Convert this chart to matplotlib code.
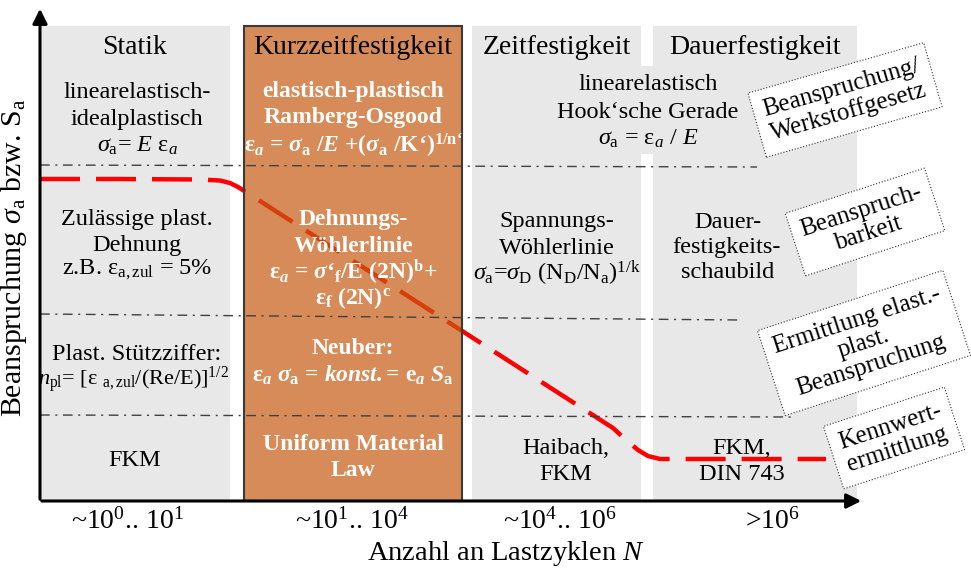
import matplotlib
matplotlib.use("Agg")
import matplotlib.pyplot as plt
from matplotlib.patches import Rectangle

plt.rcParams['font.family'] = ['Liberation Serif', 'DejaVu Serif']
plt.rcParams['mathtext.fontset'] = 'custom'
plt.rcParams['mathtext.rm'] = 'Liberation Serif'
plt.rcParams['mathtext.it'] = 'Liberation Serif:italic'
plt.rcParams['mathtext.bf'] = 'Liberation Serif:bold'
plt.rcParams['mathtext.bfit'] = 'Liberation Serif:bold:italic'

# regimes along the N axis (pixel layout of the sketch)
regimes = ['Statik', 'Kurzzeitfestigkeit', 'Zeitfestigkeit', 'Dauerfestigkeit']
regime_left = [40, 244, 472, 653]
regime_right = [230, 462, 641, 857]
cycle_ranges = [r'~10$^0$.. 10$^1$', r'~10$^1$.. 10$^4$', r'~10$^4$.. 10$^6$', r'>10$^6$']
cycle_x = [127, 352, 560, 772]

# dash-dot row separators
sep_y0 = [165, 314, 415]
sep_y1 = [167, 320, 417]
sep_end = [757, 742, 795]

# red curve (sigma_a over N)
curve_x = [40, 120, 200, 220, 230, 238, 246, 613, 626, 638, 648, 660, 700, 826]
curve_y = [179, 179, 179.5, 180.5, 183, 187, 192, 428, 440, 450, 456, 459, 459, 459]

# cell texts: gray columns (black) and orange column (white bold)
black_text = [
    'linearelastisch-', 'idealplastisch', r'$\sigma_{\rm a}$= $E$ ε$_{a}$',
    'Zulässige plast.', 'Dehnung', r'z.B. ε$_{\rm a,zul}$ = 5%',
    'Plast. Stützziffer:', r'$n_{\rm pl}$= [ε $_{\rm a,zul}$/(Re/E)]$^{1/2}$', 'FKM',
    'linearelastisch', 'Hook‘sche Gerade', r'$\sigma_{\rm a}$ = ε$_{a}$ / $E$',
    'Spannungs-', 'Wöhlerlinie', r'$\sigma_{\rm a}$=$\sigma_{\rm D}$ (N$_{\rm D}$/N$_{\rm a}$)$^{1/{\rm k}}$',
    'Haibach,', 'FKM',
    'Dauer-', 'festigkeits-', 'schaubild', 'FKM,', 'DIN 743',
]
black_x = [137, 137, 137, 137, 137, 137, 137, 133, 135,
           648, 648, 648, 557, 557, 557, 566, 566,
           728, 726, 728, 742, 742]
black_y = [92, 119, 146, 219, 245, 270, 354, 380, 460,
           84, 112, 139, 222, 248, 273, 448, 475,
           222, 247, 272, 448, 475]
black_size = [17.5] * 7 + [16] + [17.5] * 14

white_text = [
    'elastisch-plastisch', 'Ramberg-Osgood',
    r'ε$_{\mathbfit{a}}$ = $\mathbfit{σ}_{\mathbf{a}}$ /$\mathbfit{E}$ +($\mathbfit{σ}_{\mathbf{a}}$ /K‘)$^{\mathbf{1/n‘}}$',
    'Dehnungs-', 'Wöhlerlinie',
    r'ε$_{\mathbfit{a}}$ = $\mathbfit{σ}$‘$_{\mathbf{f}}$/E (2N)$^{\mathbf{b}}$+',
    r'ε$_{\mathbf{f}}$ (2N)$^{\mathbf{c}}$',
    'Neuber:', r'ε$_{\mathbfit{a}}$ $\mathbfit{σ}_{\mathbf{a}}$ = $\mathbfit{konst.}$= e$_{\mathbfit{a}}$ $\mathbfit{S}_{\mathbf{a}}$',
    'Uniform Material', 'Law',
]
white_y = [92, 118, 145, 219, 246, 272, 298, 348, 375, 444, 470]

# rotated labels on the right
side_labels = ['Beanspruchung/\nWerkstoffgesetz', 'Beanspruch-\nbarkeit',
               'Ermittlung elast.-\nplast.\nBeanspruchung', 'Kennwert-\nermittlung']
side_x = [845, 865, 864, 894]
side_y = [100, 222, 343, 438]
side_rot = [16, 18, 18, 18]

fig = plt.figure(figsize=(9.71, 5.71), dpi=100)
ax = fig.add_axes([0, 0, 1, 1])
ax.set_xlim(0, 971)
ax.set_ylim(571, 0)
ax.axis('off')

gray = '#e8e8e8'
for i, (l, r) in enumerate(zip(regime_left, regime_right)):
    if i == 1:
        ax.add_patch(Rectangle((l, 26), r - l, 475, fc=(197/255, 90/255, 17/255, 0.7),
                               ec='#3a3a3a', lw=1.5, zorder=3))
    else:
        ax.add_patch(Rectangle((l, 26), r - l, 475, fc=gray, ec='none', zorder=1))
# gray bridge for shared Hook text
ax.add_patch(Rectangle((regime_right[2], 66), regime_left[3] - regime_right[2], 88,
                       fc=gray, ec='none', zorder=1))

ax.plot(curve_x, curve_y, color='#ff0000', lw=3.2, dashes=(9, 3.6),
        solid_capstyle='butt', zorder=2)

for y0, y1, xe in zip(sep_y0, sep_y1, sep_end):
    ax.plot([40, xe], [y0, y1], color='#404040', lw=1.0,
            linestyle=(0, (7, 4, 1.5, 4)), zorder=4)

for name, l, r in zip(regimes, regime_left, regime_right):
    ax.text((l + r) / 2, 48, name, ha='center', va='center', fontsize=20, zorder=5)

for s, x, y, fs in zip(black_text, black_x, black_y, black_size):
    ax.text(x, y, s, ha='center', va='center', fontsize=fs, zorder=5)

for s, y in zip(white_text, white_y):
    ax.text(353, y, s, ha='center', va='center', fontsize=17, color='white',
            fontweight='bold', zorder=5)

for s, x, y, rot in zip(side_labels, side_x, side_y, side_rot):
    ax.text(x, y, s, ha='center', va='center', fontsize=18, rotation=rot,
            rotation_mode='anchor', multialignment='center', linespacing=1.1, zorder=5,
            bbox=dict(boxstyle='square,pad=0.4', fc='white', ec='#333333', lw=0.8, ls=':'))

for s, x in zip(cycle_ranges, cycle_x):
    ax.text(x, 521, s, ha='center', va='center', fontsize=20)

ax.text(506, 553, r'Anzahl an Lastzyklen $N$', ha='center', va='center', fontsize=20.5)
ax.text(14, 258, r'Beanspruchung $\sigma_{\rm a}$ bzw. S$_{\rm a}$', ha='center', va='center',
        fontsize=21.5, rotation=90)

ax.annotate('', xy=(40, 6), xytext=(40, 502),
            arrowprops=dict(arrowstyle='-|>', lw=2.2, color='black', mutation_scale=22), zorder=6)
ax.annotate('', xy=(864, 501), xytext=(39, 501),
            arrowprops=dict(arrowstyle='-|>', lw=2.2, color='black', mutation_scale=22), zorder=6)

fig.savefig('out.png', dpi=100)
